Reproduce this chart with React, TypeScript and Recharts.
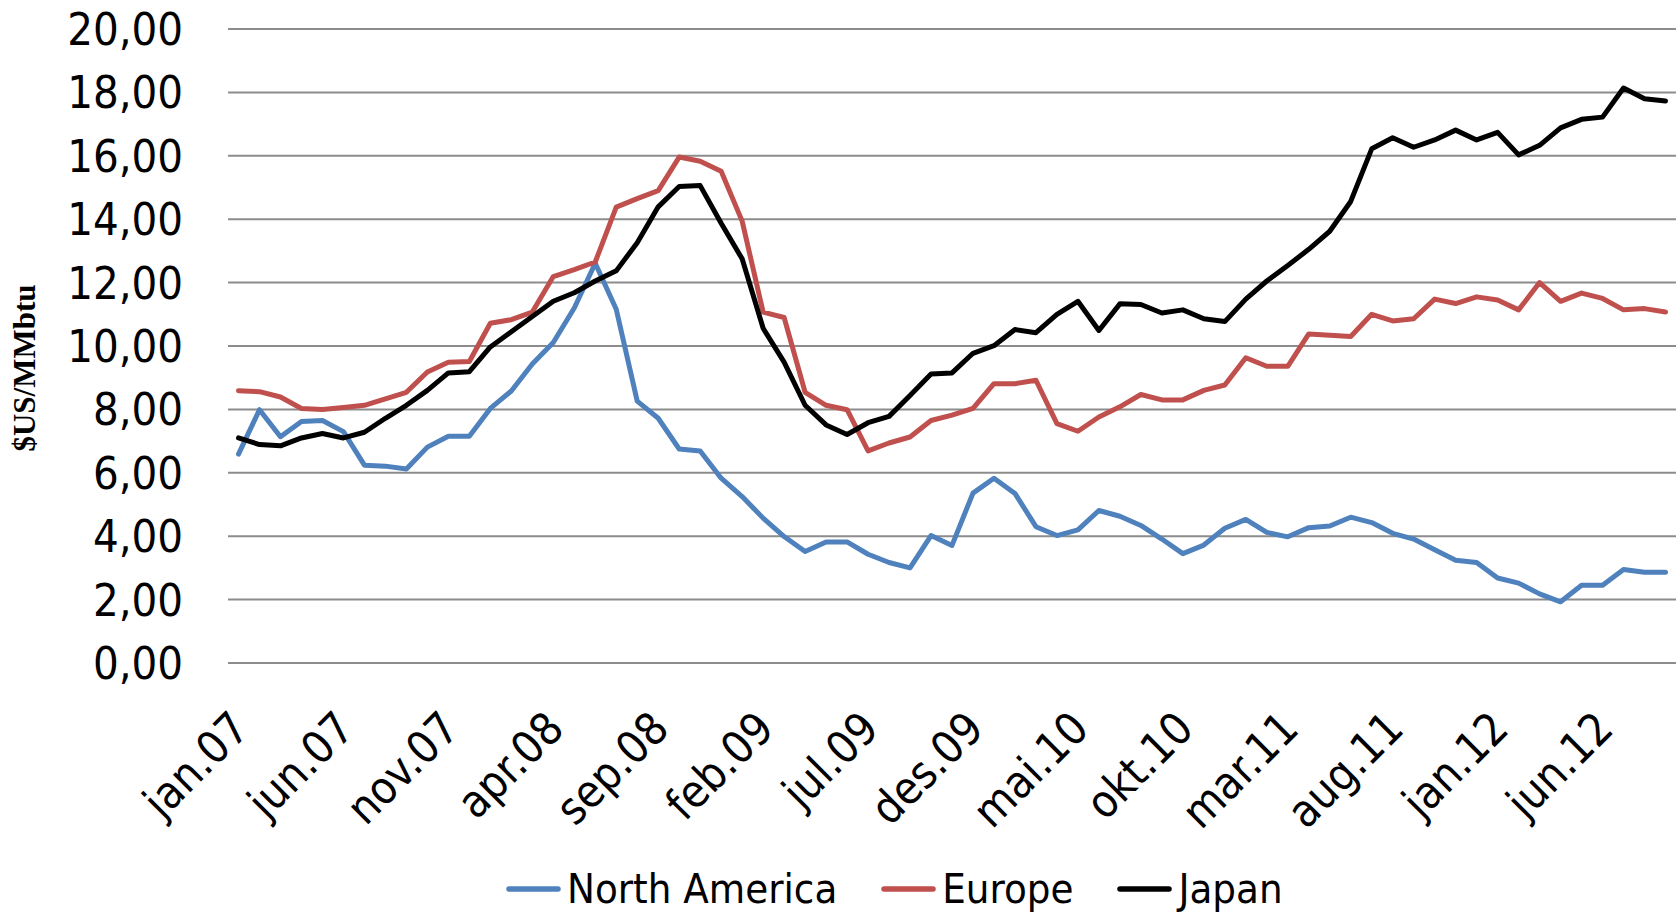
import React from "react";
import { LineChart, Line, XAxis, YAxis, CartesianGrid, Legend } from "recharts";

const FONT = "'DejaVu Sans Condensed', 'DejaVu Sans', sans-serif";

const MONTHS = ["jan", "feb", "mar", "apr", "mai", "jun", "jul", "aug", "sep", "okt", "nov", "des"];
const YEARS = ["07", "08", "09", "10", "11", "12"];
// jan.07 .. sep.12
const categories = YEARS.flatMap((y) => MONTHS.map((m) => `${m}.${y}`)).slice(0, 69);

const northAmerica = [
  6.59, 7.99, 7.14, 7.62, 7.65, 7.30, 6.24, 6.21, 6.12, 6.81, 7.15, 7.15,
  8.03, 8.58, 9.43, 10.11, 11.20, 12.61, 11.16, 8.26, 7.72, 6.75, 6.69, 5.83,
  5.25, 4.57, 3.99, 3.52, 3.82, 3.82, 3.43, 3.17, 3.00, 4.02, 3.71, 5.36,
  5.83, 5.35, 4.30, 4.02, 4.20, 4.81, 4.63, 4.34, 3.91, 3.45, 3.72, 4.25,
  4.53, 4.12, 3.98, 4.27, 4.32, 4.60, 4.43, 4.09, 3.91, 3.57, 3.24, 3.17,
  2.68, 2.52, 2.18, 1.93, 2.45, 2.45, 2.95, 2.86, 2.86,
];

const europe = [
  8.59, 8.56, 8.39, 8.03, 8.00, 8.06, 8.13, 8.33, 8.54, 9.18, 9.49, 9.51,
  10.72, 10.83, 11.07, 12.19, 12.41, 12.65, 14.38, 14.65, 14.90, 15.96, 15.83, 15.51,
  13.94, 11.07, 10.90, 8.54, 8.13, 7.99, 6.69, 6.94, 7.13, 7.65, 7.82, 8.03,
  8.81, 8.81, 8.92, 7.55, 7.31, 7.76, 8.08, 8.47, 8.30, 8.30, 8.60, 8.77,
  9.63, 9.36, 9.36, 10.38, 10.34, 10.30, 11.00, 10.79, 10.86, 11.48, 11.34, 11.55,
  11.45, 11.14, 12.00, 11.41, 11.67, 11.50, 11.14, 11.18, 11.07,
];

const japan = [
  7.10, 6.89, 6.85, 7.10, 7.24, 7.10, 7.28, 7.72, 8.13, 8.60, 9.15, 9.19,
  9.97, 10.45, 10.93, 11.41, 11.68, 12.05, 12.37, 13.26, 14.39, 15.03, 15.06, 13.87,
  12.75, 10.56, 9.49, 8.13, 7.51, 7.21, 7.58, 7.78, 8.44, 9.12, 9.15, 9.77,
  10.01, 10.52, 10.42, 11.00, 11.41, 10.49, 11.33, 11.31, 11.04, 11.14, 10.86, 10.77,
  11.48, 12.05, 12.54, 13.05, 13.62, 14.56, 16.22, 16.57, 16.27, 16.50, 16.81, 16.50,
  16.74, 16.03, 16.33, 16.88, 17.15, 17.22, 18.14, 17.80, 17.73,
];

const yTicks = [0, 2, 4, 6, 8, 10, 12, 14, 16, 18, 20];

const series = [
  { key: "na", name: "North America", color: "#4F81BD" },
  { key: "eu", name: "Europe", color: "#C0504D" },
  { key: "jp", name: "Japan", color: "#000000" },
];

const data = categories.map((month, i) => ({
  month,
  na: northAmerica[i],
  eu: europe[i],
  jp: japan[i],
}));

const fmt = (v: number) => v.toFixed(2).replace(".", ",");

function XTick(props: any) {
  const { x, y, payload } = props;
  const ax = x + 13;
  const ay = y + 68;
  return (
    <text x={ax} y={ay} transform={`rotate(-45, ${ax}, ${ay})`} textAnchor="end"
      fontSize={45} fontFamily={FONT} fill="#000">
      {payload.value}
    </text>
  );
}

function YTitle(props: any) {
  const vb = props.viewBox || { y: 29, height: 634 };
  const cx = 35;
  const cy = vb.y + vb.height / 2 + 22;
  return (
    <text x={cx} y={cy} transform={`rotate(-90, ${cx}, ${cy})`} textAnchor="middle"
      fontSize={31} fontWeight="bold" fontFamily="'Liberation Serif', 'Times New Roman', serif" fill="#000">
      $US/MMbtu
    </text>
  );
}

function LegendBox() {
  return (
    <div style={{ display: "flex", alignItems: "center", height: 50 }}>
      {series.map((s) => (
        <div key={s.key} style={{ display: "flex", alignItems: "center", marginRight: 44 }}>
          <svg width={55} height={10} style={{ display: "block" }}>
            <line x1={3} y1={5} x2={52} y2={5} stroke={s.color} strokeWidth={5.5} strokeLinecap="round" />
          </svg>
          <span style={{ marginLeft: 6, fontFamily: FONT, fontSize: 41.5, color: "#000", lineHeight: "50px" }}>
            {s.name}
          </span>
        </div>
      ))}
    </div>
  );
}

export default function App() {
  return (
    <div style={{ position: "absolute", left: 0, top: 0, width: 1676, height: 916, background: "#fff" }}>
      <LineChart width={1676} height={916} data={data} margin={{ top: 29, right: 0, left: 0, bottom: 2 }}>
        <CartesianGrid vertical={false} stroke="#8c8c8c" strokeWidth={2} />
        <XAxis dataKey="month" interval={4} axisLine={false} tickLine={false} tickSize={0} tickMargin={0}
          height={201} padding={{ left: 10.5, right: 10.5 }} tick={<XTick />} />
        <YAxis domain={[0, 20]} ticks={yTicks} width={228} axisLine={false} tickLine={false} tickSize={0}
          tickMargin={45} tickFormatter={fmt} allowDataOverflow
          tick={{ fontSize: 45, fill: "#000", fontFamily: FONT }}
          label={<YTitle />} />
        <Legend verticalAlign="bottom" height={50} content={<LegendBox />}
          wrapperStyle={{ left: 506, width: 1100 }} />
        {series.map((s) => (
          <Line key={s.key} type="linear" dataKey={s.key} name={s.name} stroke={s.color} strokeWidth={5}
            strokeLinejoin="round" strokeLinecap="round" dot={false} activeDot={false} isAnimationActive={false} />
        ))}
      </LineChart>
    </div>
  );
}
